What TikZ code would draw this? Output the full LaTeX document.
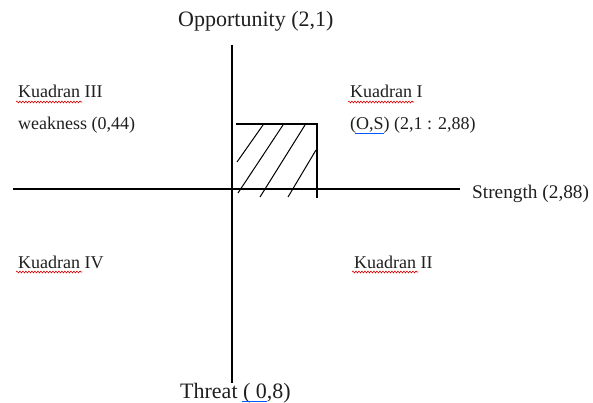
\documentclass[tikz,border=0pt]{standalone}
\usepackage{fontspec}
\setmainfont{Liberation Serif}
\usetikzlibrary{decorations.pathmorphing}
\begin{document}
\begin{tikzpicture}[x=1pt,y=-1pt,
  lbl/.style={anchor=base west,inner sep=0pt,text=black!88,font=\fontsize{18}{20}\selectfont},
  biglbl/.style={anchor=base west,inner sep=0pt,text=black!88,font=\fontsize{22}{24}\selectfont},
  midlbl/.style={anchor=base west,inner sep=0pt,text=black!88,font=\fontsize{19.3}{22}\selectfont},
  axis/.style={line width=2.2pt},
  boxline/.style={line width=1.2pt},
  hatch/.style={line width=1pt},
  squig/.style={red!85!black,line width=0.6pt,decorate,decoration={snake,amplitude=0.9pt,segment length=3pt}},
  spell/.style={blue!65!cyan,line width=0.8pt}]
\useasboundingbox[fill=white] (0,0) rectangle (593,403);
% axes
\coordinate (vt) at (232,45);
\coordinate (vb) at (232,383);
\coordinate (hl) at (13,189);
\coordinate (hr) at (460,189);
\draw[axis] (vt) -- (vb);
\draw[axis] (hl) -- (hr);
% shaded box
\coordinate (b1) at (236,124);
\coordinate (b2) at (317,124);
\coordinate (b3) at (317,198);
\draw[boxline] (b1) -- (b2) -- (b3);
\coordinate (h1a) at (237,162); \coordinate (h1b) at (263,125);
\coordinate (h2a) at (238,193); \coordinate (h2b) at (283,125);
\coordinate (h3a) at (260,197); \coordinate (h3b) at (305,125);
\coordinate (h4a) at (288,197); \coordinate (h4b) at (316,150);
\draw[hatch] (h1a) -- (h1b);
\draw[hatch] (h2a) -- (h2b);
\draw[hatch] (h3a) -- (h3b);
\draw[hatch] (h4a) -- (h4b);
% labels
\node[biglbl] (opp) at (178,27) {Opportunity (2,1)};
\node[biglbl] (thr) at (180,398) {Threat ( 0,8)};
\node[midlbl] (str) at (472,198) {Strength (2,88)};
\node[lbl] (k3) at (18,98) {Kuadran III};
\node[lbl] (wk) at (18,130) {weakness (0,44)};
\node[lbl] (k1) at (350,98) {Kuadran I};
\node[lbl] (os) at (350,130) {(O,S) (2,1 : 2,88)};
\node[lbl] (k4) at (18,268) {Kuadran IV};
\node[lbl] (k2) at (354,268) {Kuadran II};
% spell-check marks
\coordinate (s3a) at (16,102); \coordinate (s3b) at (82,102);
\coordinate (s1a) at (348,102); \coordinate (s1b) at (414,102);
\coordinate (s4a) at (16,272); \coordinate (s4b) at (82,272);
\coordinate (s2a) at (352,272); \coordinate (s2b) at (418,272);
\draw[squig] (s3a) -- (s3b);
\draw[squig] (s1a) -- (s1b);
\draw[squig] (s4a) -- (s4b);
\draw[squig] (s2a) -- (s2b);
\coordinate (u1a) at (355,133); \coordinate (u1b) at (384,133);
\coordinate (u2a) at (242,401); \coordinate (u2b) at (267,401);
\draw[spell] (u1a) -- (u1b);
\draw[spell] (u2a) -- (u2b);
\end{tikzpicture}
\end{document}
